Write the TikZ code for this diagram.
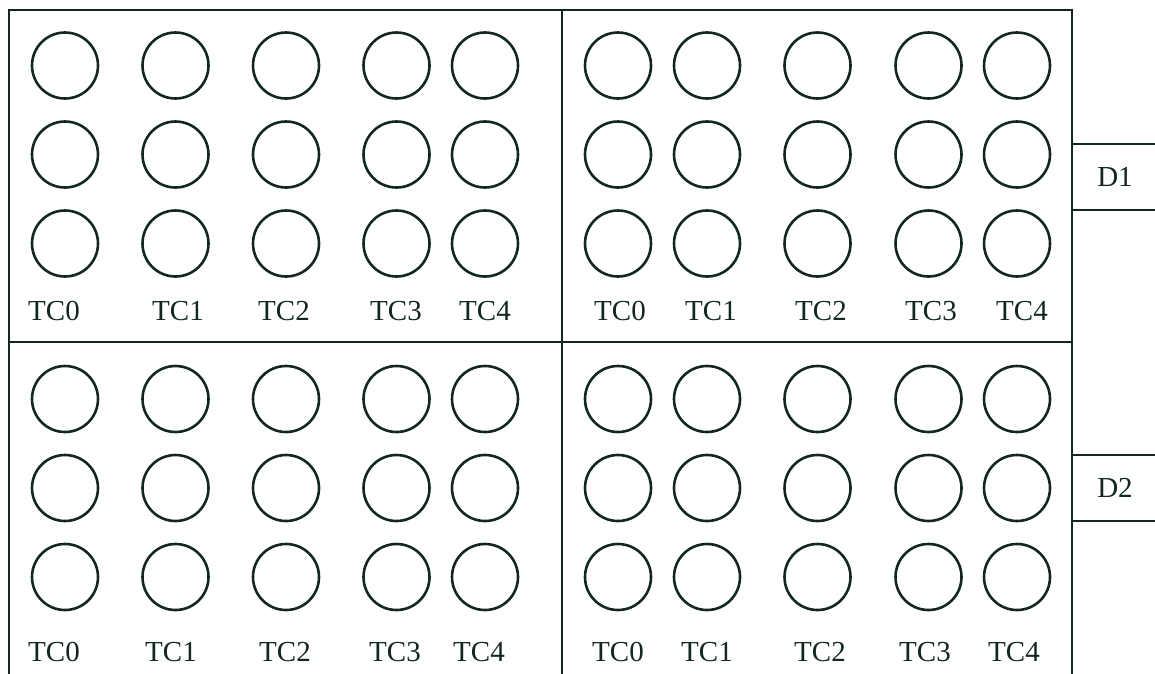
\documentclass[tikz,border=0pt]{standalone}
\usepackage{fontspec}
\setmainfont{Liberation Serif}
\definecolor{ink}{RGB}{18,38,34}
\begin{document}
\begin{tikzpicture}[x=1pt,y=-1pt,
  ring/.style={circle,draw=ink,line width=2.6pt,minimum size=66pt,inner sep=0pt},
  frame/.style={draw=ink,line width=2.8pt},
  tclabel/.style={text=ink,font=\fontsize{29}{32}\selectfont,inner sep=0pt,anchor=base},
  dbox/.style={draw=ink,line width=2.6pt,minimum width=86pt,minimum height=66pt,inner sep=0pt,text=ink,font=\fontsize{29}{32}\selectfont}]
\useasboundingbox (0,0) rectangle (1155,673);
\clip (0,0) rectangle (1155,673);
% frame
\coordinate (tl) at (9,10);
\coordinate (tr) at (1072,10);
\coordinate (bl) at (9,690);
\coordinate (br) at (1072,690);
\coordinate (mt) at (562,10);
\coordinate (mb) at (562,690);
\coordinate (ml) at (9,342);
\coordinate (mr) at (1072,342);
\draw[frame] (bl) -- (tl) -- (tr) -- (br);
\draw[frame] (mt) -- (mb);
\draw[frame] (ml) -- (mr);
% circles
\foreach \q/\yo in {t/0,b/333.5}{
  \foreach \r/\y in {1/65.5,2/154.5,3/243.5}{
    \foreach \c/\x in {0/65,1/175.5,2/286,3/396.5,4/485}{
      \node[ring] (c-\q L-\r-\c) at (\x,\y+\yo) {};
    }
    \foreach \c/\x in {0/618,1/707,2/817.5,3/928.5,4/1017}{
      \node[ring] (c-\q R-\r-\c) at (\x,\y+\yo) {};
    }
  }
}
% labels top-left
\node[tclabel] (l-tL-0) at (54,320) {TC0};
\node[tclabel] (l-tL-1) at (178,320) {TC1};
\node[tclabel] (l-tL-2) at (284,320) {TC2};
\node[tclabel] (l-tL-3) at (396,320) {TC3};
\node[tclabel] (l-tL-4) at (485,320) {TC4};
% labels top-right
\node[tclabel] (l-tR-0) at (620,320) {TC0};
\node[tclabel] (l-tR-1) at (711,320) {TC1};
\node[tclabel] (l-tR-2) at (821,320) {TC2};
\node[tclabel] (l-tR-3) at (931,320) {TC3};
\node[tclabel] (l-tR-4) at (1022,320) {TC4};
% labels bottom-left
\node[tclabel] (l-bL-0) at (54,661) {TC0};
\node[tclabel] (l-bL-1) at (171,661) {TC1};
\node[tclabel] (l-bL-2) at (285,661) {TC2};
\node[tclabel] (l-bL-3) at (395,661) {TC3};
\node[tclabel] (l-bL-4) at (479,661) {TC4};
% labels bottom-right
\node[tclabel] (l-bR-0) at (618,661) {TC0};
\node[tclabel] (l-bR-1) at (707,661) {TC1};
\node[tclabel] (l-bR-2) at (820,661) {TC2};
\node[tclabel] (l-bR-3) at (925,661) {TC3};
\node[tclabel] (l-bR-4) at (1014,661) {TC4};
% D boxes
\node[dbox] (d1) at (1115,177) {D1};
\node[dbox] (d2) at (1115,488) {D2};
\end{tikzpicture}
\end{document}
